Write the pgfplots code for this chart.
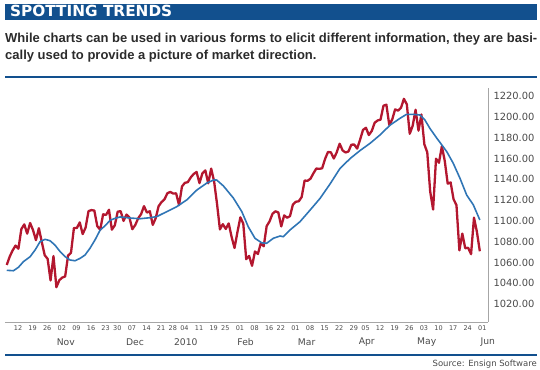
\documentclass[border=0pt]{standalone}
\usepackage{pgfplots}
\pgfplotsset{compat=1.18}
\usepackage{fontspec}
\setmainfont{DejaVu Sans}
\newfontfamily\subfont{Liberation Sans}
\definecolor{navy}{HTML}{12508E}
\definecolor{redline}{HTML}{B3172F}
\definecolor{blueline}{HTML}{2F75B5}
\definecolor{txt}{HTML}{2B2B2B}
\definecolor{lab}{HTML}{4A4A4A}
\begin{document}
\begin{tikzpicture}
\path[use as bounding box] (0pt,0pt) rectangle (540pt,-369pt);
\fill[navy] (5pt,-4.2pt) rectangle (537pt,-19.7pt);
\node[anchor=base west, inner sep=0pt, text=white, font=\fontsize{15.3}{16}\selectfont\bfseries] at (10pt,-16.8pt) {SPOTTING TRENDS};
\node[anchor=base west, inner sep=0pt, text=txt, font=\subfont\fontsize{13}{16}\selectfont\bfseries] at (5pt,-43pt) {\makebox[532pt][s]{While charts can be used in various forms to elicit different information, they are basi-}};
\node[anchor=base west, inner sep=0pt, text=txt, font=\subfont\fontsize{13}{16}\selectfont\bfseries] at (5pt,-59.5pt) {cally used to provide a picture of market direction.};
\draw[navy, line width=2.4pt] (5pt,-76.8pt) -- (537pt,-76.8pt);
\draw[navy, line width=2.2pt] (5pt,-354.8pt) -- (537pt,-354.8pt);
\node[anchor=base east, inner sep=0pt, text=lab, font=\fontsize{8.5}{9}\selectfont] at (537pt,-366pt) {Source: Ensign Software};
\begin{axis}[
  at={(5pt,-322pt)}, anchor=south west, scale only axis,
  width=483pt, height=234pt,
  xmin=-0.6, xmax=164.8, ymin=1002.7, ymax=1227.7,
  axis x line*=bottom, axis y line*=right,
  axis line style={draw=gray!70, line width=0.9pt},
  major tick length=0pt,
  clip=false,
  xtick={3.86,8.86,13.86,18.86,23.86,28.86,33.86,37.86,42.86,47.86,52.86,56.86,60.86,65.86,70.86,74.86,79.86,84.86,89.86,93.86,98.86,103.86,108.86,113.86,118.86,122.86,127.86,132.86,137.86,142.86,147.86,152.86,157.86,162.86},
  xticklabels={12,19,26,02,09,16,23,30,07,14,21,28,04,11,19,25,01,08,16,22,01,08,15,22,29,05,12,19,26,03,10,17,24,01},
  xticklabel style={font=\fontsize{6.5}{7}\selectfont, text=lab, anchor=center, inner sep=0pt, yshift=-6.3pt},
  extra x ticks={20.2,43.9,61.3,81.8,102.7,123.3,143.8,164.75},
  extra x tick labels={Nov,Dec,2010,Feb,Mar,Apr,May,Jun},
  extra x tick style={xticklabel style={font=\fontsize{9.2}{10}\selectfont, yshift=-14pt}},
  ytick={1020,1040,...,1220},
  yticklabels={1020.00,1040.00,1060.00,1080.00,1100.00,1120.00,1140.00,1160.00,1180.00,1200.00,1220.00},
  yticklabel style={font=\fontsize{9.9}{10}\selectfont, text=lab, anchor=west, inner sep=0pt, xshift=5.3pt},
]
\addplot[redline, line width=2.3pt, line join=round, no marks] coordinates {
(0,1057.58)(1,1065.48)(2,1071.49)(3,1076.19)(4,1073.19)(5,1092.02)(6,1096.56)(7,1087.68)(8,1097.91)(9,1091.06)
(10,1081.40)(11,1092.91)(12,1079.60)(13,1066.95)(14,1063.41)(15,1042.63)(16,1066.11)(17,1036.19)(18,1042.88)(19,1045.41)
(20,1046.50)(21,1066.63)(22,1069.30)(23,1093.08)(24,1093.01)(25,1098.51)(26,1087.24)(27,1093.48)(28,1109.30)(29,1110.32)
(30,1109.80)(31,1094.90)(32,1091.38)(33,1106.24)(34,1105.65)(35,1110.63)(36,1091.49)(37,1095.63)(38,1108.86)(39,1109.24)
(40,1099.92)(41,1105.98)(42,1103.25)(43,1091.94)(44,1095.95)(45,1102.35)(46,1106.41)(47,1114.11)(48,1107.93)(49,1109.18)
(50,1096.08)(51,1102.47)(52,1114.05)(53,1118.02)(54,1120.59)(55,1126.48)(56,1127.78)(57,1126.20)(58,1126.42)(59,1115.10)
(60,1132.99)(61,1136.52)(62,1137.14)(63,1141.69)(64,1144.98)(65,1146.98)(66,1136.22)(67,1145.68)(68,1148.46)(69,1136.03)
(70,1150.23)(71,1138.04)(72,1116.48)(73,1091.76)(74,1096.78)(75,1092.17)(76,1097.50)(77,1084.53)(78,1073.87)(79,1089.19)
(80,1103.32)(81,1097.28)(82,1063.11)(83,1066.19)(84,1056.74)(85,1070.52)(86,1068.13)(87,1078.47)(88,1075.51)(89,1094.87)
(90,1099.51)(91,1106.75)(92,1109.17)(93,1108.01)(94,1094.60)(95,1105.24)(96,1102.94)(97,1104.49)(98,1115.71)(99,1118.31)
(100,1118.79)(101,1122.97)(102,1138.70)(103,1138.50)(104,1140.45)(105,1145.61)(106,1150.24)(107,1149.99)(108,1150.51)(109,1159.46)
(110,1166.21)(111,1165.83)(112,1159.90)(113,1165.81)(114,1174.17)(115,1167.72)(116,1165.73)(117,1166.59)(118,1173.22)(119,1173.27)
(120,1169.43)(121,1178.10)(122,1187.44)(123,1189.44)(124,1182.45)(125,1186.44)(126,1194.37)(127,1196.48)(128,1197.30)(129,1210.65)
(130,1211.67)(131,1192.13)(132,1197.52)(133,1207.17)(134,1205.94)(135,1208.67)(136,1217.28)(137,1212.05)(138,1183.71)(139,1191.36)
(140,1206.78)(141,1186.69)(142,1202.26)(143,1173.60)(144,1165.87)(145,1128.15)(146,1110.88)(147,1159.73)(148,1155.79)(149,1171.67)
(150,1157.44)(151,1135.68)(152,1136.94)(153,1120.80)(154,1115.05)(155,1071.59)(156,1087.69)(157,1073.65)(158,1074.03)(159,1067.95)
(160,1103.06)(161,1089.41)(162,1070.71)
};
\addplot[blueline, line width=1.6pt, line join=round, no marks] coordinates {
(0,1052.4)(2.3,1052.0)(4.0,1055.3)(5.7,1060.7)(8.0,1065.5)(9.7,1071.9)(11.4,1079.9)(13.1,1082.2)(14.8,1080.9)(16.5,1076.7)
(18.3,1070.3)(20.0,1065.5)(21.7,1062.3)(23.4,1061.6)(25.1,1063.9)(26.8,1067.1)(28.5,1073.6)(30.2,1081.5)(32.0,1091.2)(33.7,1095.3)
(35.4,1100.5)(37.1,1102.4)(38.8,1103.7)(42.2,1102.7)(45.6,1102.0)(49.1,1103.0)(51.4,1104.1)(54.8,1108.8)(58.2,1113.6)(61.6,1120.0)
(65.1,1129.6)(68.5,1136.3)(70.8,1139.2)(71.9,1139.2)(74.2,1133.5)(77.6,1121.9)(80.5,1108.8)(82.7,1094.3)(85.0,1083.2)(87.3,1078.9)
(89.0,1078.4)(91.3,1083.2)(93.6,1085.4)(94.7,1084.7)(97.0,1091.2)(100.4,1099.1)(103.9,1110.4)(107.3,1121.6)(110.7,1135.4)(114.1,1150.3)
(117.6,1159.9)(121.0,1167.6)(124.4,1174.5)(127.8,1182.5)(131.3,1192.1)(134.7,1198.6)(136.9,1202.4)(139.2,1202.4)(141.5,1201.7)(143.2,1196.9)
(144.9,1188.9)(147.3,1179.3)(149.0,1172.9)(150.7,1166.4)(152.9,1155.3)(155.2,1140.9)(157.5,1124.8)(159.8,1115.2)(162.0,1100.8)
};
\end{axis}
\end{tikzpicture}
\end{document}
